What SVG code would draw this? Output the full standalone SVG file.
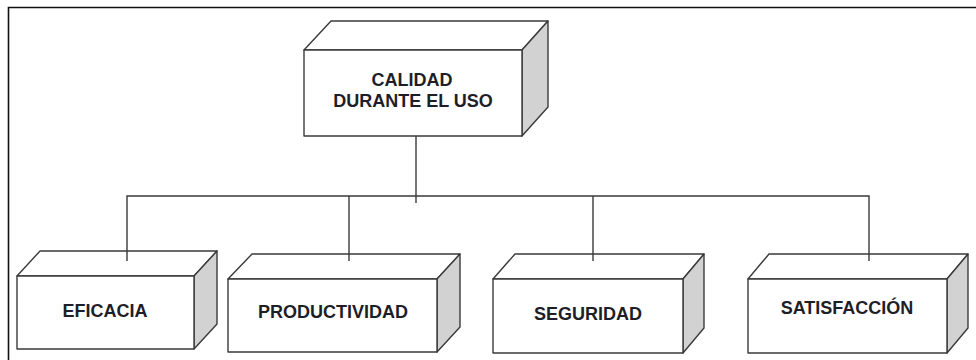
<svg xmlns="http://www.w3.org/2000/svg" width="976" height="360" viewBox="0 0 976 360">
<style>
.face{fill:#fff;stroke:#3a3a3a;stroke-width:1.4;stroke-linejoin:round}
.side{fill:#d2d2d2;stroke:#3a3a3a;stroke-width:1.4;stroke-linejoin:round}
.lbl{font-family:"Liberation Sans",Arial,sans-serif;font-weight:bold;font-size:18px;fill:#1e1e28;text-anchor:middle}
.conn{stroke:#3a3a3a;stroke-width:1.4;fill:none}
.frame{stroke:#111;stroke-width:1.6;fill:none}
</style>
<rect width="976" height="360" fill="#fff"/>
<path class="frame" d="M8.5,360 V7.5 H976"/>
<g id="calidad">
<polygon class="face" points="304,50 331,21 548,21 522,50"/>
<polygon class="side" points="522,50 548,21 548,107 522,136"/>
<rect class="face" x="304" y="50" width="218" height="86"/>
<text class="lbl" x="412" y="86">CALIDAD</text>
<text class="lbl" x="413" y="107">DURANTE EL USO</text>
</g>
<g id="eficacia">
<polygon class="face" points="17,276 40,251 217,251 194,276"/>
<polygon class="side" points="194,276 217,251 217,324 194,349"/>
<rect class="face" x="17" y="276" width="177" height="73"/>
<text class="lbl" x="105" y="317">EFICACIA</text>
</g>
<g id="productividad">
<polygon class="face" points="228,279 252,254 460,254 437,279"/>
<polygon class="side" points="437,279 460,254 460,327 437,352"/>
<rect class="face" x="228" y="279" width="209" height="73"/>
<text class="lbl" x="333" y="318">PRODUCTIVIDAD</text>
</g>
<g id="seguridad">
<polygon class="face" points="493,279 515,254 704,254 683,279"/>
<polygon class="side" points="683,279 704,254 704,328 683,353"/>
<rect class="face" x="493" y="279" width="190" height="74"/>
<text class="lbl" x="588" y="320">SEGURIDAD</text>
</g>
<g id="satisfaccion">
<polygon class="face" points="748,279 769,254 968,254 947,279"/>
<polygon class="side" points="947,279 968,254 968,328 947,353"/>
<rect class="face" x="748" y="279" width="199" height="74"/>
<text class="lbl" x="847" y="314">SATISFACCIÓN</text>
</g>
<g id="connectors">
<path class="conn" d="M416,136 V203"/>
<path class="conn" d="M127,261 V196 H869 V261"/>
<path class="conn" d="M349,196 V261"/>
<path class="conn" d="M593,196 V261"/>
</g>
</svg>
